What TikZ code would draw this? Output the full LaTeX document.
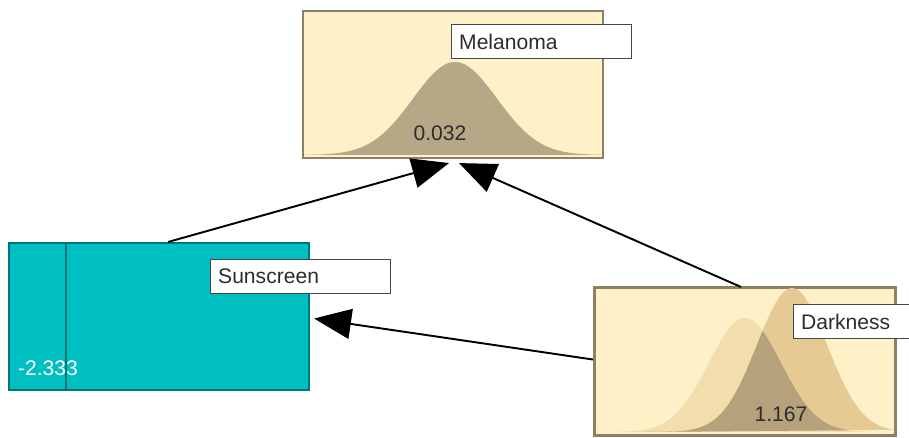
\documentclass[tikz,border=0pt]{standalone}
\usepackage{fontspec}
\setmainfont{Liberation Sans}
\usetikzlibrary{arrows.meta,calc}

\definecolor{paper}{RGB}{254,241,200}
\definecolor{boxline}{RGB}{140,128,102}
\definecolor{melbell}{RGB}{182,167,134}
\definecolor{lightbell}{RGB}{241,222,172}
\definecolor{midbell}{RGB}{229,202,147}
\definecolor{darkbell}{RGB}{181,162,124}
\definecolor{teal}{RGB}{0,191,192}
\definecolor{tealline}{RGB}{0,118,122}
\definecolor{tagline}{RGB}{70,70,70}
\definecolor{tagtext}{RGB}{45,45,45}

\begin{document}
\begin{tikzpicture}[x=0.02cm,y=-0.02cm,
    panel/.style={draw=boxline, fill=paper, line width=1.2pt, minimum width=6cm,
                  minimum height=2.94cm, inner sep=0pt, anchor=north west},
    tag/.style={draw=tagline, fill=white, line width=0.8pt, anchor=north west,
                text width=3.3cm, inner xsep=0.15cm, align=left, minimum height=0.68cm,
                text=tagtext, font=\fontsize{12}{14}\selectfont},
    num/.style={font=\fontsize{12}{14}\selectfont, text=tagtext},
    arr/.style={-{Triangle[length=0.74cm,width=0.6cm]}, line width=1.1pt, black}]

    \useasboundingbox (0,0) rectangle (909,438);

    % ================= MELANOMA =================
    \node[panel] (mel) at (302,10) {};
    \fill[melbell] plot[domain=-3.6:3.5, samples=70, smooth]
        ({455+42*\x}, {155-93*exp(-\x*\x/2)}) -- cycle;
    \node[tag] (meltag) at (451,24) {Melanoma};
    \node[num] (melnum) at (440,133) {0.032};

    % ================= SUNSCREEN =================
    \node[panel, fill=teal, draw=tealline] (sun) at (8,242) {};
    \draw[tealline, line width=1pt] ($(sun.north west)+(58,0)$) -- ($(sun.south west)+(58,0)$);
    \node[tag] (suntag) at (210,259) {Sunscreen};
    \node[num, text=white] (sunnum) at (48,368) {-2.333};

    % ================= DARKNESS =================
    \node[panel] (dark) at (594,287) {};
    % prior and shifted curves
    \fill[lightbell] plot[domain=-4.2:4.2, samples=80, smooth]
        ({745+36*\x}, {432-114*exp(-\x*\x/2)}) -- cycle;
    \fill[midbell] plot[domain=-4.2:2.9, samples=80, smooth]
        ({792+35*\x}, {432-144*exp(-\x*\x/2)}) -- cycle;
    % overlap
    \begin{scope}
        \clip plot[domain=-4.2:4.2, samples=80, smooth]
            ({745+36*\x}, {432-114*exp(-\x*\x/2)}) -- cycle;
        \fill[darkbell] plot[domain=-4.2:2.9, samples=80, smooth]
            ({792+35*\x}, {432-144*exp(-\x*\x/2)}) -- cycle;
    \end{scope}
    \draw[boxline, line width=1.2pt] (dark.north west) rectangle (dark.south east);
    \node[tag] (darktag) at (793,304) {Darkness};
    \node[num] (darknum) at (781,414) {1.167};

    % ================= LINKS =================
    \coordinate (tipA) at ($(mel.south)+(-4,4)$);
    \coordinate (tipB) at ($(mel.south)+(6,4)$);
    \coordinate (tipC) at ($(sun.east)+(4,2)$);

    \draw[arr] ($(sun.north)+(9,0)$) -- (tipA);
    \draw[arr] ($(dark.north)+(-4,0)$) -- (tipB);
    \draw[arr] ($(dark.west)+(-1,-2)$) -- (tipC);

\end{tikzpicture}
\end{document}
